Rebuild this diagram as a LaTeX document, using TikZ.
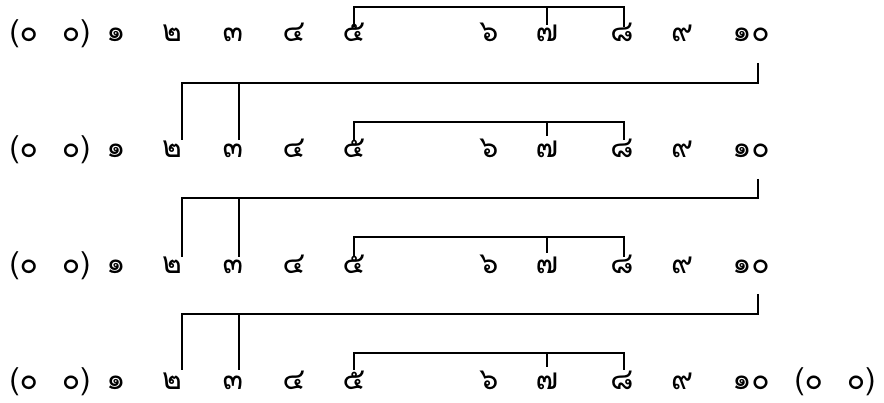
\documentclass[tikz,border=0pt]{standalone}
\usepackage{fontspec}
\newfontfamily\thaifont[Script=Thai]{Loma}
\begin{document}
\begin{tikzpicture}[x=1pt,y=-1pt,
  dg/.style={font=\thaifont\fontsize{30}{36}\selectfont, inner sep=0pt, anchor=base},
  br/.style={line width=1.4pt, line join=miter}]
\useasboundingbox (0,0) rectangle (884,403);
% digits
\foreach \r/\b in {1/42,2/158,3/274,4/390}{
  \node[dg] (p\r) at (50,\b) {(๐\hspace{24pt}๐)};
  \node[dg] (n\r-1) at (116,\b) {๑};
  \node[dg] (n\r-2) at (172,\b) {๒};
  \node[dg] (n\r-3) at (233,\b) {๓};
  \node[dg] (n\r-4) at (294,\b) {๔};
  \node[dg] (n\r-5) at (354,\b) {๕};
  \node[dg] (n\r-6) at (489,\b) {๖};
  \node[dg] (n\r-7) at (547,\b) {๗};
  \node[dg] (n\r-8) at (622,\b) {๘};
  \node[dg] (n\r-9) at (682,\b) {๙};
  \node[dg] (n\r-10) at (751,\b) {๑๐};
}
\node[dg] (q4) at (835,390) {(๐\hspace{24pt}๐)};
% upper brackets over 5-7-8
\foreach \r/\t/\e/\es in {1/7/27/25, 2/122/140/136, 3/237/257/253, 4/353/370/367}{
  \coordinate (T\r) at (0,\t);
  \coordinate (f\r) at (354,\e);
  \coordinate (s\r) at (547,\es);
  \coordinate (h\r) at (624,\e);
  \draw[br] (f\r) |- (T\r -| h\r) -- (h\r);
  \draw[br] (s\r) -- (s\r |- T\r);
}
% connectors from 10 down to 2 and 3 of next row
\foreach \r/\l/\v/\n/\e in {1/83/63/2/140, 2/198/179/3/257, 3/314/294/4/370}{
  \coordinate (R\r) at (758,\v);
  \coordinate (L\r) at (0,\l);
  \coordinate (A\n) at (182,\e);
  \coordinate (B\n) at (239,\e);
  \draw[br] (R\r) |- (L\r -| A\n) -- (A\n);
  \draw[br] (B\n |- L\r) -- (B\n);
}
\end{tikzpicture}
\end{document}
